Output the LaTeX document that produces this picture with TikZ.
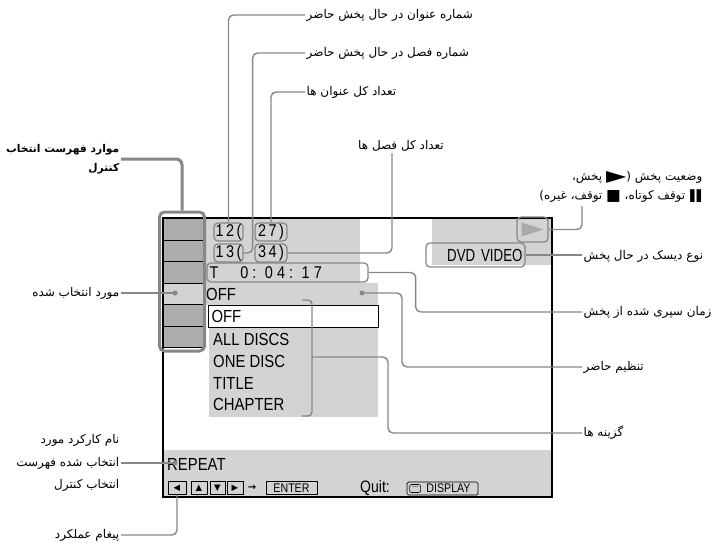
\documentclass[tikz,border=0pt]{standalone}
\usepackage{fontspec}
\setmainfont{DejaVu Sans}
\newfontfamily\fa[Script=Arabic]{DejaVu Sans}
\newfontfamily\scr[FakeStretch=0.85]{Liberation Sans}
\newfontfamily\scrnarrow[FakeStretch=0.76,WordSpace=0.6]{Liberation Sans}
\newfontfamily\scrdig[FakeStretch=0.85,LetterSpace=14]{Liberation Sans}
\newfontfamily\scrtime[FakeStretch=0.85,LetterSpace=24]{Liberation Sans}
\TeXXeTstate=1

\definecolor{panelgray}{RGB}{210,211,213}
\definecolor{cellgray}{RGB}{172,172,174}
\definecolor{leadgray}{RGB}{135,135,135}
\definecolor{playgray}{RGB}{170,170,170}

\begin{document}
\begin{tikzpicture}[x=1pt, y=-1pt,
    lead/.style={draw=leadgray, line width=1.4pt, rounded corners=5pt},
    leadthick/.style={draw=leadgray, line width=3pt, rounded corners=6pt},
    tagbox/.style={draw=leadgray, line width=1.3pt, rounded corners=4pt, inner sep=0pt},
    keybox/.style={draw=black, line width=0.7pt, inner sep=0pt, minimum height=13},
    falbl/.style={font=\fa\fontsize{12}{19}\selectfont, inner sep=1.5pt},
    scrtxt/.style={font=\scr\fontsize{17.5}{18}\selectfont, inner sep=0pt},
    digtxt/.style={font=\scrdig\fontsize{17}{18}\selectfont},
    spot/.style={circle, fill=leadgray, inner sep=0pt, minimum size=5pt}]
  \useasboundingbox (0,0) rectangle (720,543);

  % Screen panels
  \fill[panelgray] (205,218) rectangle (360,283);
  \fill[panelgray] (203,283) rectangle (378,305);
  \fill[panelgray] (209,305) rectangle (378,417);
  \fill[panelgray] (432,218) rectangle (552,265);
  \fill[panelgray] (163,450) rectangle (552,497);

  % Control menu column
  \fill[cellgray] (163,218) rectangle (203,347);
  \fill[panelgray] (163,283) rectangle (203,304);
  \foreach \y in {240,261,283,304,326,347}
    \draw[line width=0.9pt] (163,\y) -- (203,\y);

  % Screen border
  \draw[line width=1.3pt] (163,218) rectangle (552,497);

  % Title/chapter counters and time
  \node[tagbox, digtxt, minimum width=29, minimum height=18] (t12) at (228.5,232) {12(};
  \node[tagbox, digtxt, minimum width=29, minimum height=18] (t13) at (228.5,253) {13(};
  \node[tagbox, digtxt, minimum width=32, minimum height=18] (t27) at (271,232) {27)};
  \node[tagbox, digtxt, minimum width=32, minimum height=18] (t34) at (271,253) {34)};
  \node[tagbox, font=\scrtime\fontsize{17}{18}\selectfont, minimum width=161, minimum height=19,
    text width=156, align=left] (tT) at (287.5,272.5) {T\hspace{22pt}0: 04: 17};

  % Disc type and play state
  \node[tagbox, font=\scrnarrow\fontsize{17.5}{18}\selectfont, minimum width=99, minimum height=24,
    text width=94, align=right] (dvd) at (475.5,255) {DVD VIDEO};
  \node[tagbox, minimum width=31, minimum height=25] (play) at (532.5,229.5) {};
  \fill[playgray] ([xshift=-11pt,yshift=7pt]play.center) -- ([xshift=-11pt,yshift=-7pt]play.center)
    -- ([xshift=11pt]play.center) -- cycle;

  % Setting and options
  \node[scrtxt, anchor=west] (cur) at (206,294) {OFF};
  \coordinate (dotSet) at (362,293);
  \node[scrtxt, draw=black, fill=white, line width=1pt, minimum width=170, minimum height=22,
    text width=164, align=left, anchor=west] (selbox) at (208,316) {OFF};
  \foreach \txt [count=\i] in {ALL DISCS, ONE DISC, TITLE, CHAPTER}
    \node[scrtxt, anchor=west] (opt\i) at (213,318+21.7*\i) {\txt};
  \draw[lead, rounded corners=4pt] (302,300) -- (312,300) -- (312,416) -- (302,416);
  \coordinate (brk) at (312,357);

  % Bottom bar
  \node[scrtxt, anchor=west] (rep) at (167,464) {REPEAT};
  \coordinate (dotRep) at (175,463);
  \coordinate (dotSel) at (175,293);
  \node[keybox, minimum width=18, font=\fontsize{8.5}{8}\selectfont] (kl) at (177,488) {◀};
  \node[keybox, minimum width=16, font=\fontsize{8.5}{8}\selectfont] (ku) at (199,488) {▲};
  \node[keybox, minimum width=15, font=\fontsize{8.5}{8}\selectfont] (kd) at (217.5,488) {▼};
  \node[keybox, minimum width=16, font=\fontsize{8.5}{8}\selectfont] (kr) at (235,488) {▶};
  \node[font=\bfseries\fontsize{10}{10}\selectfont, inner sep=0pt] (arr) at (252,488) {→};
  \node[keybox, minimum width=51, font=\scr\fontsize{12.5}{13}\selectfont] (enter) at (291.5,488) {ENTER};
  \node[anchor=west, font=\scr\fontsize{16.5}{16}\selectfont, inner sep=0pt] (quit) at (360,488) {Quit:};
  \node[keybox, rounded corners=1.5pt, minimum width=71, font=\scr\fontsize{12.5}{13}\selectfont]
    (disp) at (442.5,488.5) {\hspace*{12pt}DISPLAY};
  \draw[line width=0.6pt, rounded corners=2pt] ([xshift=3pt,yshift=-4pt]disp.west)
    rectangle ([xshift=14pt,yshift=4pt]disp.west);
  \foreach \dx in {6.5,8.5,10.5}
    \fill ([xshift=\dx pt,yshift=2pt]disp.west) circle (0.5pt);

  % Frame round the control menu
  \node[draw=leadgray, line width=3pt, rounded corners=5pt, minimum width=45, minimum height=139,
    inner sep=0pt] (menu) at (182,281.5) {};

  % Labels
  \node[falbl, anchor=west] (lTitleNo) at (305,15) {\beginR شماره عنوان در حال پخش حاضر\endR};
  \node[falbl, anchor=west] (lChapNo) at (305,53) {\beginR شماره فصل در حال پخش حاضر\endR};
  \node[falbl, anchor=west] (lTitleTot) at (305,92) {\beginR تعداد کل عنوان ها\endR};
  \node[falbl] (lChapTot) at (401,146) {\beginR تعداد کل فصل ها\endR};
  \node[falbl, anchor=south east, align=right] (lState) at (704,204)
    {\beginR پخش،\endR\ \raisebox{-1pt}{\scalebox{2.2}[1.3]{▶}}(\ \beginR وضعیت پخش\endR\\
     )\beginR توقف، غیره\endR\ \raisebox{-1pt}{\scalebox{1.3}{■}}\ \beginR توقف کوتاه،\endR\ \raisebox{-1pt}{\scalebox{1}[1.4]{▮▮}}};
  \coordinate (stateEnd) at (582,206);
  \node[falbl, anchor=west] (lDisc) at (582,256) {\beginR نوع دیسک در حال پخش\endR};
  \node[falbl, anchor=west] (lTime) at (582,312) {\beginR زمان سپری شده از پخش\endR};
  \node[falbl, anchor=west] (lSet) at (582,367) {\beginR تنظیم حاضر\endR};
  \node[falbl, anchor=west] (lOpt) at (582,433) {\beginR گزینه ها\endR};
  \node[falbl, font=\fa\bfseries\fontsize{10.7}{19}\selectfont, anchor=east, align=right] (lCtrl) at (121,159)
    {\beginR موارد فهرست انتخاب\endR\\\beginR کنترل\endR};
  \node[falbl, anchor=east] (lSel) at (121,293) {\beginR مورد انتخاب شده\endR};
  \node[falbl, font=\fa\fontsize{12}{22.5}\selectfont, anchor=east, align=right] (lFunc) at (121,463)
    {\beginR نام کارکرد مورد\endR\\\beginR انتخاب شده فهرست\endR\\\beginR انتخاب کنترل\endR};
  \node[falbl, anchor=east] (lMsg) at (121,535) {\beginR پیغام عملکرد\endR};

  % Leaders
  \draw[lead] (lTitleNo.west) -| (t12.north);
  \draw[lead] (lChapNo.west) -| ([xshift=9pt]t13.east) -- (t13.east);
  \draw[lead] (lTitleTot.west) -| (t27.north);
  \draw[lead] (t34.east) -| ([xshift=-9pt]lChapTot.south);
  \draw[lead] (play.east) -| (stateEnd);
  \draw[lead] (dvd.east) -- (dvd.east -| lDisc.west);
  \draw[lead] (tT.east) -- ++(47,0) |- (lTime.west);
  \draw[lead] (dotSet) -- ++(40,0) |- (lSet.west);
  \draw[lead] (brk) -- ++(76,0) |- (lOpt.west);
  \draw[leadthick] (lCtrl.east) -| (menu.north);
  \draw[lead] (lSel.east) -- (dotSel);
  \draw[lead] (lFunc.east) -- (dotRep);
  \draw[lead] (lMsg.east) -| (kl.south);

  % Dots at key points
  \node[spot] (sSel) at (dotSel) {};
  \node[spot] (sSet) at (dotSet) {};
  \node[spot] (sRep) at (dotRep) {};
\end{tikzpicture}
\end{document}
